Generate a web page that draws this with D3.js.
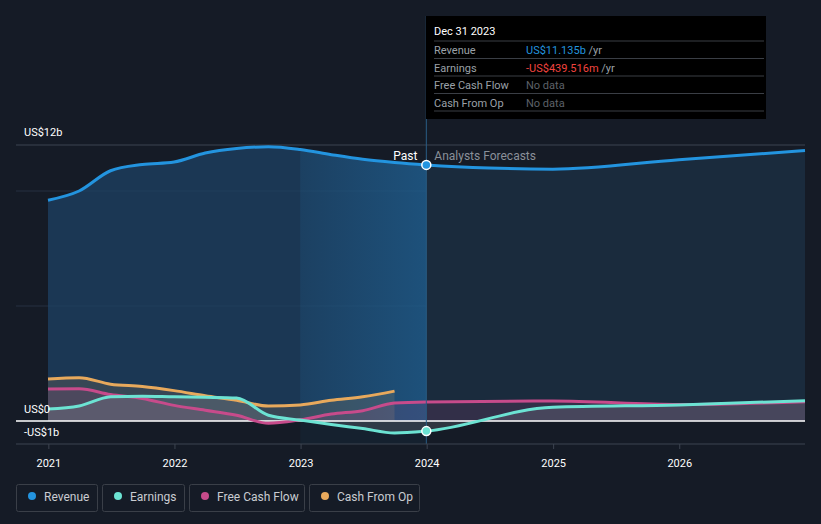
<!DOCTYPE html>
<html>
<head>
<meta charset="utf-8">
<script src="https://cdn.jsdelivr.net/npm/d3@7"></script>
<style>
  body { margin: 0; background: #151b26; font-family: Roboto, "Noto Sans", sans-serif; }
  #chart svg { display: block; }
</style>
</head>
<body>
<div id="chart"></div>
<script>
// data (US$ billions), quarterly past + annual forecast
var revenueDates = ["2020-12-31","2021-03-31","2021-06-30","2021-09-30","2021-12-31","2022-03-31","2022-06-30","2022-09-30","2022-12-31","2023-03-31","2023-06-30","2023-09-30","2023-12-31","2024-06-30","2024-12-31","2025-12-31","2026-12-31"];
var revenueValues = [9.6, 10.0, 10.88, 11.15, 11.26, 11.65, 11.85, 11.92, 11.8, 11.58, 11.38, 11.24, 11.135, 11.0, 10.95, 11.36, 11.76];

var earningsDates = ["2020-12-31","2021-03-31","2021-06-30","2021-09-30","2021-12-31","2022-03-31","2022-06-30","2022-09-30","2022-12-31","2023-03-31","2023-06-30","2023-09-30","2023-12-31","2024-12-31","2025-12-31","2026-12-31"];
var earningsValues = [0.52, 0.65, 1.05, 1.08, 1.05, 1.03, 1.0, 0.25, 0.04, -0.15, -0.33, -0.52, -0.44, 0.6, 0.7, 0.88];

var fcfDates = ["2020-12-31","2021-03-31","2021-06-30","2021-09-30","2021-12-31","2022-03-31","2022-06-30","2022-09-30","2022-12-31","2023-03-31","2023-06-30","2023-09-30","2023-12-31","2024-12-31","2025-12-31","2026-12-31"];
var fcfValues = [1.39, 1.4, 1.15, 0.98, 0.68, 0.47, 0.25, -0.1, 0.05, 0.3, 0.45, 0.78, 0.83, 0.87, 0.72, 0.84];

var cfoDates = ["2020-12-31","2021-03-31","2021-06-30","2021-09-30","2021-12-31","2022-03-31","2022-06-30","2022-09-30","2022-12-31","2023-03-31","2023-06-30","2023-09-30"];
var cfoValues = [1.83, 1.88, 1.6, 1.5, 1.32, 1.1, 0.9, 0.65, 0.7, 0.9, 1.05, 1.3];

var yearTicks = ["2021","2022","2023","2024","2025","2026"];
var colors = {revenue: "#2394df", earnings: "#6ce3d3", fcf: "#c74b8b", cfo: "#e8a95c"};

var width = 821, height = 524;
var parse = d3.timeParse("%Y-%m-%d");

function series(dates, vals) {
  return dates.map(function(d, i) { return {date: parse(d), value: vals[i]}; });
}
var revenue = series(revenueDates, revenueValues);
var earnings = series(earningsDates, earningsValues);
var fcf = series(fcfDates, fcfValues);
var cfo = series(cfoDates, cfoValues);

var x = d3.scaleTime()
  .domain([parse("2020-12-31"), parse("2026-12-31")])
  .range([48, 805]);
var y = d3.scaleLinear()
  .domain([-1, 12])
  .range([444, 145]);

var todayDate = parse("2023-12-31");
var bandStart = parse("2022-12-31");

var svg = d3.select("#chart").append("svg")
  .attr("width", width)
  .attr("height", height);

var defs = svg.append("defs");
var bandGrad = defs.append("linearGradient").attr("id", "bandGrad");
bandGrad.append("stop").attr("offset", "0%").attr("stop-color", "#2394df").attr("stop-opacity", 0.1);
bandGrad.append("stop").attr("offset", "100%").attr("stop-color", "#2394df").attr("stop-opacity", 0.28);

// gridlines
var grid = [0, 5, 10, 12];
svg.selectAll(".grid").data(grid).enter().append("line")
  .attr("x1", 16).attr("x2", 805)
  .attr("y1", function(d) { return y(d); })
  .attr("y2", function(d) { return y(d); })
  .attr("stroke", function(d) { return d === 12 ? "#3d4450" : "#263140"; })
  .attr("stroke-width", 1);

var line = d3.line()
  .x(function(d) { return x(d.date); })
  .y(function(d) { return y(d.value); })
  .curve(d3.curveMonotoneX);
var area = d3.area()
  .x(function(d) { return x(d.date); })
  .y0(y(0))
  .y1(function(d) { return y(d.value); })
  .curve(d3.curveMonotoneX);

function splitPast(data) {
  return data.filter(function(d) { return d.date <= todayDate; });
}
function splitFuture(data) {
  return data.filter(function(d) { return d.date >= todayDate; });
}

// clip for the highlighted band: under revenue, plus below zero
defs.append("clipPath").attr("id", "revClip")
  .append("path").datum(splitPast(revenue)).attr("d", area);

// revenue area: past brighter, future dimmer
svg.append("path").datum(splitPast(revenue))
  .attr("d", area).attr("fill", "#1d4264").attr("fill-opacity", 0.75);
svg.append("path").datum(splitFuture(revenue))
  .attr("d", area).attr("fill", "#1a2b3d");

// highlighted last year band
svg.append("rect")
  .attr("x", x(bandStart)).attr("y", y(12))
  .attr("width", x(todayDate) - x(bandStart))
  .attr("height", y(0) - y(12))
  .attr("clip-path", "url(#revClip)")
  .attr("fill", "url(#bandGrad)");
svg.append("rect")
  .attr("x", x(bandStart)).attr("y", y(0))
  .attr("width", x(todayDate) - x(bandStart))
  .attr("height", y(-1) - y(0))
  .attr("fill", "#2394df").attr("fill-opacity", 0.05);

// other areas
svg.append("path").datum(cfo).attr("d", area).attr("fill", colors.cfo).attr("fill-opacity", 0.14);
svg.append("path").datum(fcf).attr("d", area).attr("fill", colors.fcf).attr("fill-opacity", 0.14);
svg.append("path").datum(earnings).attr("d", area).attr("fill", "#9aa3ad").attr("fill-opacity", 0.2);

// zero line
svg.append("line")
  .attr("x1", 16).attr("x2", 805)
  .attr("y1", y(0)).attr("y2", y(0))
  .attr("stroke", "#ffffff").attr("stroke-width", 1.5);

// lines
svg.append("path").datum(cfo).attr("d", line).attr("fill", "none").attr("stroke", colors.cfo).attr("stroke-width", 3);
svg.append("path").datum(fcf).attr("d", line).attr("fill", "none").attr("stroke", colors.fcf).attr("stroke-width", 3);
svg.append("path").datum(earnings).attr("d", line).attr("fill", "none").attr("stroke", colors.earnings).attr("stroke-width", 3);
svg.append("path").datum(revenue).attr("d", line).attr("fill", "none").attr("stroke", colors.revenue).attr("stroke-width", 3);

// vertical marker line
svg.append("line")
  .attr("x1", x(todayDate)).attr("x2", x(todayDate))
  .attr("y1", 16).attr("y2", y(-1))
  .attr("stroke", "#2a5c85").attr("stroke-width", 1);

// marker dots
svg.append("circle").attr("cx", x(todayDate)).attr("cy", y(11.135)).attr("r", 4.5)
  .attr("fill", colors.revenue).attr("stroke", "#ffffff").attr("stroke-width", 1.5);
svg.append("circle").attr("cx", x(todayDate)).attr("cy", y(-0.44)).attr("r", 4.5)
  .attr("fill", colors.earnings).attr("stroke", "#ffffff").attr("stroke-width", 1.5);

// Past / Analysts Forecasts
svg.append("text").attr("x", x(todayDate) - 9).attr("y", 160).attr("text-anchor", "end")
  .attr("fill", "#ffffff").attr("font-size", 12).text("Past");
svg.append("text").attr("x", x(todayDate) + 8).attr("y", 160)
  .attr("fill", "#8a9099").attr("font-size", 12).text("Analysts Forecasts");

// y labels
svg.append("text").attr("x", 24).attr("y", y(12) - 9).attr("fill", "#ffffff").attr("font-size", 11).text("US$12b");
svg.append("text").attr("x", 24).attr("y", y(0) - 8).attr("fill", "#ffffff").attr("font-size", 11).text("US$0");
svg.append("text").attr("x", 24).attr("y", y(-1) - 8).attr("fill", "#ffffff").attr("font-size", 11).text("-US$1b");

// x axis
var xAxis = d3.axisBottom(x)
  .tickValues(yearTicks.map(function(t) { return parse(t + "-01-01"); }))
  .tickFormat(d3.timeFormat("%Y"))
  .tickSize(5);
var gx = svg.append("g").attr("transform", "translate(0," + y(-1) + ")").call(xAxis);
gx.select(".domain").remove();
gx.selectAll(".tick line").attr("stroke", "#3d4450");
gx.selectAll(".tick text").attr("fill", "#ffffff").attr("font-size", 11).attr("dy", "1.4em")
  .attr("font-family", "Roboto, sans-serif");
svg.append("line").attr("x1", 16).attr("x2", 805).attr("y1", y(-1)).attr("y2", y(-1))
  .attr("stroke", "#3d4450").attr("stroke-width", 1);

// tooltip
var tip = svg.append("g").attr("transform", "translate(426,16)");
tip.append("rect").attr("width", 340).attr("height", 103).attr("fill", "#000000");
tip.append("text").attr("x", 8).attr("y", 19).attr("fill", "#ffffff").attr("font-size", 11).text("Dec 31 2023");
var rows = [
  {label: "Revenue", value: "US$11.135b", color: colors.revenue, unit: " /yr"},
  {label: "Earnings", value: "-US$439.516m", color: "#f2443f", unit: " /yr"},
  {label: "Free Cash Flow", value: "No data", color: "#5d6168", unit: ""},
  {label: "Cash From Op", value: "No data", color: "#5d6168", unit: ""}
];
rows.forEach(function(r, i) {
  var ty = 25 + i * 17.5;
  tip.append("line").attr("x1", 8).attr("x2", 338).attr("y1", ty).attr("y2", ty)
    .attr("stroke", "#3a3e45").attr("stroke-width", 1);
  tip.append("text").attr("x", 8).attr("y", ty + 13).attr("fill", "#9ba0a8").attr("font-size", 11).text(r.label);
  var t = tip.append("text").attr("x", 100).attr("y", ty + 13).attr("font-size", 11);
  t.append("tspan").attr("fill", r.color).text(r.value);
  t.append("tspan").attr("fill", "#9ba0a8").text(r.unit);
});
tip.append("line").attr("x1", 8).attr("x2", 338).attr("y1", 95).attr("y2", 95)
  .attr("stroke", "#3a3e45").attr("stroke-width", 1);

// legend
var legendItems = [
  {label: "Revenue", color: colors.revenue, w: 81},
  {label: "Earnings", color: colors.earnings, w: 82},
  {label: "Free Cash Flow", color: colors.fcf, w: 115},
  {label: "Cash From Op", color: colors.cfo, w: 110}
];
var lx = 16;
legendItems.forEach(function(item) {
  var g = svg.append("g").attr("transform", "translate(" + lx + ",484)");
  g.append("rect").attr("x", 0.5).attr("y", 0.5).attr("width", item.w).attr("height", 27).attr("rx", 2)
    .attr("fill", "none").attr("stroke", "#3a3f48");
  g.append("circle").attr("cx", 16).attr("cy", 12).attr("r", 4).attr("fill", item.color);
  g.append("text").attr("x", 28).attr("y", 16.5).attr("fill", "#c9ccd1").attr("font-size", 12).text(item.label);
  lx += item.w + 5;
});
</script>
</body>
</html>
